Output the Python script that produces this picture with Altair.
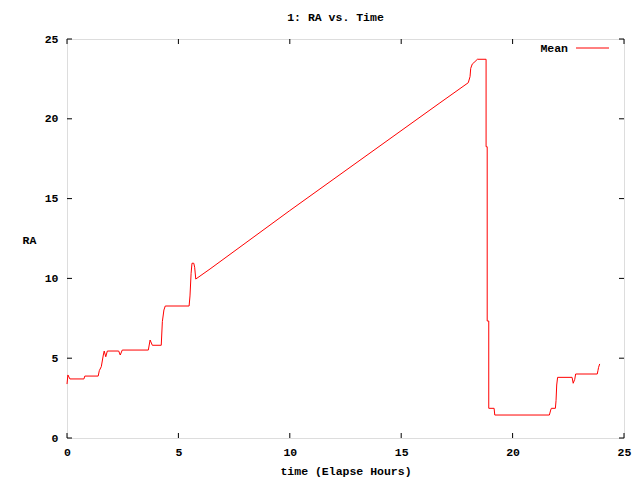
import altair as alt
import pandas as pd

# Elapsed time (hours) and RA mean values
hours = [0.00, 0.04, 0.13, 0.76, 0.80, 1.40, 1.45, 1.54, 1.63, 1.67, 1.74, 1.81,
         2.32, 2.39, 2.48, 3.65, 3.73, 3.83, 4.23, 4.28, 4.35, 4.41, 5.48, 5.52,
         5.57, 5.61, 5.69, 5.73, 5.78, 6.42, 10.00, 16.74, 18.01, 18.09, 18.12,
         18.19, 18.31, 18.42, 18.81, 18.81, 18.86, 18.86, 18.93, 18.93, 19.17,
         19.20, 21.65, 21.71, 21.74, 21.92, 21.95, 21.98, 22.02, 22.67, 22.72,
         22.79, 22.83, 23.80, 23.83, 23.86, 23.91]
ra = [3.38, 3.95, 3.70, 3.70, 3.88, 3.88, 4.22, 4.47, 5.20, 5.45, 5.09, 5.45,
      5.45, 5.20, 5.51, 5.51, 6.14, 5.81, 5.81, 7.29, 8.02, 8.27, 8.27, 8.90,
      10.32, 10.95, 10.95, 10.70, 9.96, 10.59, 14.25, 21.00, 22.26, 22.64, 23.16,
      23.43, 23.58, 23.73, 23.73, 18.25, 18.25, 7.33, 7.33, 1.86, 1.86,
      1.44, 1.44, 1.75, 1.86, 1.86, 2.34, 3.32, 3.80, 3.80, 3.43,
      3.68, 4.01, 4.01, 4.22, 4.43, 4.64]

x_ticks = [0, 5, 10, 15, 20, 25]
y_ticks = [0, 5, 10, 15, 20, 25]

FONT = "Liberation Mono"
FS = 11.5
W, H = 557, 399

df = pd.DataFrame({"t": hours, "ra": ra, "i": list(range(len(hours)))})
xt = pd.DataFrame({"v": x_ticks})
yt = pd.DataFrame({"v": y_ticks})

xscale = alt.Scale(domain=[0, 25], nice=False, zero=False)
yscale = alt.Scale(domain=[0, 25], nice=False, zero=False)

line = alt.Chart(df).mark_line(color="#ff0000", strokeWidth=1).encode(
    x=alt.X("t:Q", scale=xscale, title="time (Elapse Hours)",
            axis=alt.Axis(values=x_ticks, ticks=False, grid=False, domain=False,
                          labelPadding=8, titlePadding=8, format="d", labelFlush=False,
                          labelFont=FONT, labelFontSize=FS, labelFontWeight="bold",
                          titleFont=FONT, titleFontSize=FS, titleFontWeight="bold",
                          labelColor="black", titleColor="black")),
    y=alt.Y("ra:Q", scale=yscale, title="RA",
            axis=alt.Axis(values=y_ticks, ticks=False, grid=False, domain=False,
                          labelPadding=9, titleAngle=0, titleX=-38, titleY=201,
                          titleBaseline="middle", titleAlign="center", format="d",
                          labelFlush=False,
                          labelFont=FONT, labelFontSize=FS, labelFontWeight="bold",
                          titleFont=FONT, titleFontSize=FS, titleFontWeight="bold",
                          labelColor="black", titleColor="black")),
    order="i:Q",
)

tick_bottom = alt.Chart(xt).mark_rule(color="black").encode(
    x=alt.X("v:Q", scale=xscale), y=alt.value(H), y2=alt.value(H - 5))
tick_top = alt.Chart(xt).mark_rule(color="black").encode(
    x=alt.X("v:Q", scale=xscale), y=alt.value(0), y2=alt.value(5))
tick_left = alt.Chart(yt).mark_rule(color="black").encode(
    y=alt.Y("v:Q", scale=yscale), x=alt.value(0), x2=alt.value(5))
tick_right = alt.Chart(yt).mark_rule(color="black").encode(
    y=alt.Y("v:Q", scale=yscale), x=alt.value(W), x2=alt.value(W - 5))

legend_text = alt.Chart(pd.DataFrame({"s": ["Mean"]})).mark_text(
    align="right", baseline="middle", font=FONT, fontSize=FS, fontWeight="bold",
    color="black").encode(text="s:N", x=alt.value(501), y=alt.value(10))
legend_line = alt.Chart(pd.DataFrame({"s": ["Mean"]})).mark_rule(
    color="#ff0000", strokeWidth=1).encode(
    x=alt.value(509), x2=alt.value(542), y=alt.value(9))

chart = alt.layer(line, tick_bottom, tick_top, tick_left, tick_right,
                  legend_text, legend_line).properties(
    width=W, height=H,
    title=alt.TitleParams("1: RA vs. Time", font=FONT, fontSize=FS,
                          fontWeight="bold", anchor="middle", frame="group",
                          dx=-10, offset=10, color="black"),
    autosize=alt.AutoSizeParams(type="none"),
    padding={"left": 59, "top": 31, "right": 8, "bottom": 41},
).configure_view(stroke="black", strokeWidth=1).configure(background="white")

chart.save("out.html", embed_options={"renderer": "svg", "actions": False})
